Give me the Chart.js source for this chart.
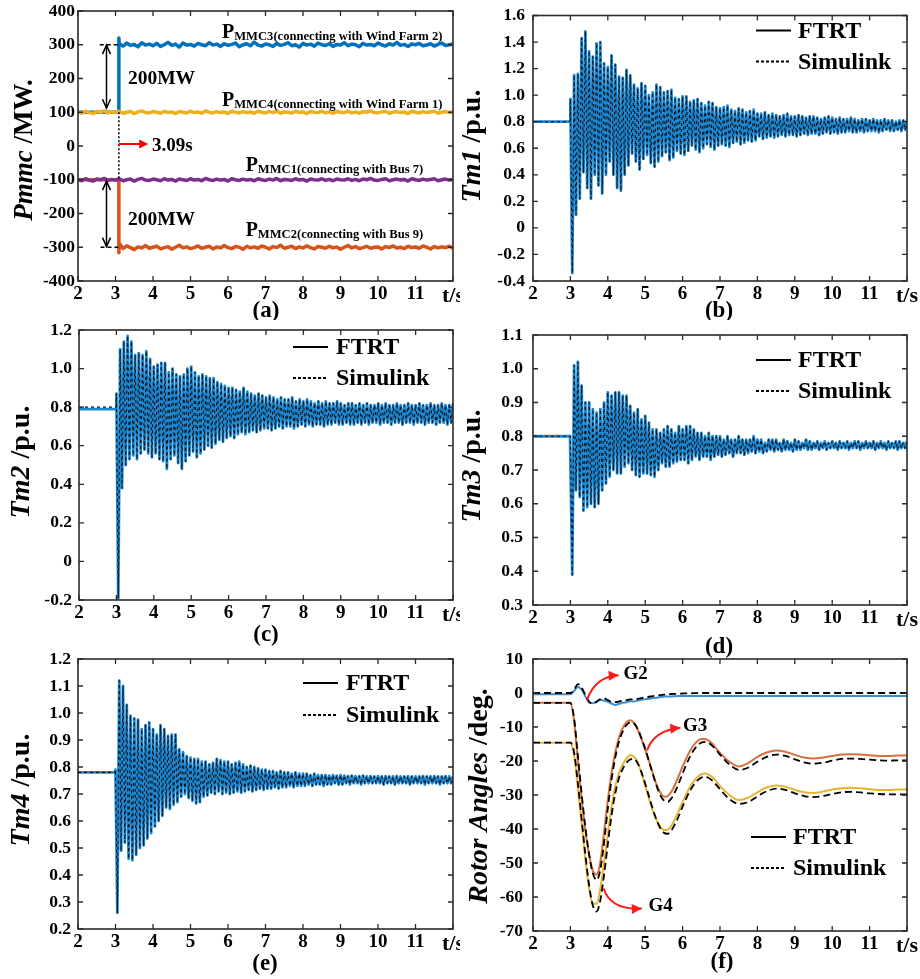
<!DOCTYPE html>
<html>
<head>
<meta charset="utf-8">
<script src="https://cdn.jsdelivr.net/npm/chart.js@4.4.0/dist/chart.umd.min.js"></script>
<style>
  body { margin: 0; background: #fff; }
  #wrap { position: relative; width: 920px; height: 979px; overflow: hidden; background: #fff; }
  canvas { position: absolute; }
</style>
</head>
<body>
<div id="wrap">
  <canvas id="cA" width="460" height="320" style="left:0;top:0"></canvas>
  <canvas id="cB" width="460" height="320" style="left:460px;top:0"></canvas>
  <canvas id="cC" width="460" height="340" style="left:0;top:320px"></canvas>
  <canvas id="cD" width="460" height="340" style="left:460px;top:320px"></canvas>
  <canvas id="cE" width="460" height="329" style="left:0;top:650px"></canvas>
  <canvas id="cF" width="460" height="329" style="left:460px;top:650px"></canvas>
</div>
<script>
const SERIF = '"Liberation Serif", "Times New Roman", serif';

// ---------- (a) MMC powers, MW, sampled every 0.1 s from 2.0 to 12.0 ----------
const mmcTime = [];
for (let i = 0; i <= 100; i++) mmcTime.push(+(2 + i * 0.1).toFixed(1));
const stepTime = 3.09;
const mmc3Jump = 320;
const mmc2Jump = -316;

const mmc3 = [100, 100, 100, 100, 100, 100, 100, 100, 100, 100, 100,
  303, 296, 305, 298, 301, 294, 306, 299, 302, 297,
  304, 295, 300, 307, 298, 302, 293, 305, 299, 301,
  296, 304, 300, 297, 306, 299, 302, 295, 303, 298,
  301, 305, 294, 300, 303, 297, 308, 299, 296, 302,
  300, 295, 304, 298, 301, 306, 297, 300, 293, 304,
  299, 302, 296, 305, 300, 298, 303, 295, 301, 299,
  306, 297, 302, 300, 294, 304, 299, 301, 297, 305,
  300, 296, 303, 299, 307, 298, 301, 295, 302, 300,
  304, 297, 299, 303, 296, 301, 305, 298, 300, 302];

const mmc4 = [101, 97, 103, 99, 96, 102, 100, 104, 98, 101,
  99, 103, 97, 100, 102, 96, 101, 104, 99, 98,
  102, 100, 97, 103, 99, 101, 96, 102, 100, 98,
  103, 99, 101, 97, 104, 100, 98, 102, 99, 101,
  96, 103, 100, 98, 102, 99, 101, 97, 103, 100,
  98, 102, 99, 104, 97, 101, 100, 98, 103, 99,
  101, 96, 102, 100, 99, 103, 98, 101, 97, 102,
  100, 99, 103, 98, 101, 97, 102, 100, 104, 99,
  98, 101, 103, 97, 100, 102, 99, 101, 96, 103,
  100, 98, 102, 99, 101, 103, 97, 100, 102, 99, 101];

const mmc1 = [-99, -103, -97, -101, -104, -98, -100, -96, -102, -99,
  -101, -97, -103, -100, -98, -104, -99, -96, -101, -102,
  -98, -100, -103, -97, -101, -99, -104, -98, -100, -102,
  -97, -101, -99, -103, -96, -100, -102, -98, -101, -99,
  -104, -97, -100, -102, -98, -101, -99, -103, -97, -100,
  -102, -98, -101, -96, -103, -99, -100, -102, -97, -101,
  -99, -104, -98, -100, -101, -97, -102, -99, -103, -98,
  -100, -101, -97, -102, -99, -103, -98, -100, -96, -101,
  -102, -99, -97, -103, -100, -98, -101, -99, -104, -97,
  -100, -102, -98, -101, -99, -97, -103, -100, -98, -101, -99];

const mmc2 = [-100, -100, -100, -100, -100, -100, -100, -100, -100, -100, -100,
  -288, -304, -296, -301, -307, -299, -302, -295, -303, -300,
  -297, -305, -301, -298, -306, -300, -294, -302, -299, -304,
  -301, -296, -303, -300, -297, -305, -299, -302, -295, -301,
  -304, -298, -300, -306, -297, -302, -299, -303, -296, -300,
  -305, -298, -301, -294, -303, -300, -297, -304, -299, -302,
  -296, -301, -305, -298, -300, -303, -297, -302, -299, -306,
  -300, -295, -302, -298, -304, -301, -297, -303, -300, -299,
  -305, -298, -301, -296, -302, -300, -304, -297, -301, -299,
  -303, -296, -300, -305, -298, -302, -299, -301, -297, -303];

// ---------- (b)-(e) mechanical torques, p.u. ----------
// Hi: crest values at 3.1, 3.2 ... 12.0 s ; Lo: trough values at 3.05, 3.15 ... 11.95 s
const tm1Pre = 0.80, tm1Kick = 0.97;
const tm1Hi = [1.15, 1.16, 1.43, 1.48, 1.33, 1.29, 1.39, 1.40, 1.24, 1.21,
  1.30, 1.23, 1.14, 1.13, 1.19, 1.15, 1.08, 1.05, 1.09, 1.07,
  1.00, 1.02, 1.08, 1.06, 1.02, 1.03, 1.04, 0.98, 0.97, 0.99,
  0.99, 0.95, 0.96, 0.97, 0.94, 0.92, 0.95, 0.94, 0.91, 0.90,
  0.91, 0.92, 0.89, 0.88, 0.90, 0.89, 0.87, 0.88, 0.89, 0.86,
  0.86, 0.87, 0.85, 0.86, 0.85, 0.84, 0.85, 0.86, 0.84, 0.84,
  0.85, 0.84, 0.83, 0.84, 0.84, 0.83, 0.82, 0.83, 0.84, 0.83,
  0.82, 0.83, 0.82, 0.82, 0.83, 0.82, 0.81, 0.82, 0.82, 0.81,
  0.82, 0.81, 0.81, 0.82, 0.81, 0.81, 0.80, 0.81, 0.81, 0.81];
const tm1Lo = [-0.34, 0.10, 0.22, 0.42, 0.30, 0.22, 0.40, 0.32, 0.26, 0.40,
  0.50, 0.40, 0.30, 0.28, 0.40, 0.47, 0.56, 0.50, 0.44, 0.52,
  0.55, 0.49, 0.46, 0.50, 0.54, 0.57, 0.51, 0.53, 0.58, 0.56,
  0.55, 0.58, 0.62, 0.59, 0.57, 0.60, 0.63, 0.61, 0.59, 0.62,
  0.63, 0.62, 0.61, 0.64, 0.65, 0.63, 0.64, 0.66, 0.65, 0.66,
  0.69, 0.67, 0.68, 0.69, 0.68, 0.69, 0.70, 0.69, 0.70, 0.70,
  0.69, 0.70, 0.71, 0.70, 0.71, 0.71, 0.70, 0.71, 0.72, 0.71,
  0.72, 0.71, 0.72, 0.72, 0.73, 0.72, 0.72, 0.73, 0.72, 0.73,
  0.73, 0.73, 0.72, 0.73, 0.74, 0.73, 0.73, 0.74, 0.73, 0.74];

const tm2PreFtrt = 0.79, tm2PreSim = 0.80, tm2Kick = 0.87;
const tm2Hi = [1.10, 1.14, 1.17, 1.14, 1.07, 1.08, 1.07, 1.09, 1.05, 1.01,
  1.02, 1.03, 1.03, 0.98, 1.00, 0.97, 0.96, 0.97, 1.00, 1.01,
  0.98, 0.96, 0.97, 0.96, 0.95, 0.95, 0.93, 0.92, 0.91, 0.90,
  0.90, 0.89, 0.88, 0.90, 0.88, 0.87, 0.86, 0.87, 0.86, 0.85,
  0.86, 0.85, 0.84, 0.85, 0.84, 0.84, 0.85, 0.83, 0.84, 0.83,
  0.84, 0.83, 0.82, 0.83, 0.82, 0.83, 0.82, 0.82, 0.83, 0.82,
  0.81, 0.82, 0.82, 0.81, 0.82, 0.81, 0.82, 0.81, 0.81, 0.82,
  0.81, 0.82, 0.81, 0.81, 0.82, 0.81, 0.81, 0.82, 0.81, 0.81,
  0.82, 0.81, 0.81, 0.82, 0.81, 0.81, 0.82, 0.81, 0.81, 0.82];
const tm2Lo = [-0.19, 0.38, 0.50, 0.53, 0.55, 0.53, 0.56, 0.58, 0.56, 0.54,
  0.56, 0.53, 0.52, 0.48, 0.53, 0.55, 0.51, 0.48, 0.52, 0.55,
  0.57, 0.54, 0.56, 0.58, 0.60, 0.59, 0.61, 0.63, 0.62, 0.64,
  0.65, 0.64, 0.66, 0.67, 0.66, 0.67, 0.68, 0.67, 0.68, 0.69,
  0.69, 0.68, 0.69, 0.70, 0.69, 0.70, 0.70, 0.69, 0.70, 0.71,
  0.70, 0.71, 0.70, 0.71, 0.71, 0.70, 0.71, 0.71, 0.72, 0.71,
  0.71, 0.72, 0.71, 0.71, 0.72, 0.71, 0.72, 0.71, 0.72, 0.72,
  0.71, 0.72, 0.72, 0.71, 0.72, 0.72, 0.71, 0.72, 0.72, 0.71,
  0.72, 0.72, 0.71, 0.72, 0.72, 0.71, 0.72, 0.72, 0.71, 0.72];

const tm3Pre = 0.80, tm3Kick = 0.80;
const tm3Hi = [1.01, 1.02, 0.95, 0.90, 0.90, 0.88, 0.87, 0.88, 0.90, 0.93,
  0.92, 0.93, 0.93, 0.92, 0.92, 0.89, 0.87, 0.88, 0.85, 0.86,
  0.84, 0.82, 0.82, 0.81, 0.82, 0.83, 0.82, 0.81, 0.83, 0.82,
  0.83, 0.83, 0.82, 0.81, 0.81, 0.80, 0.81, 0.80, 0.80, 0.80,
  0.79, 0.80, 0.79, 0.79, 0.80, 0.79, 0.79, 0.79, 0.80, 0.79,
  0.79, 0.78, 0.79, 0.79, 0.79, 0.78, 0.79, 0.785, 0.78, 0.79,
  0.785, 0.78, 0.79, 0.785, 0.78, 0.785, 0.78, 0.785, 0.78, 0.785,
  0.78, 0.785, 0.78, 0.785, 0.78, 0.785, 0.785, 0.78, 0.785, 0.78,
  0.785, 0.78, 0.785, 0.78, 0.785, 0.78, 0.785, 0.785, 0.78, 0.785];
const tm3Lo = [0.39, 0.64, 0.62, 0.58, 0.59, 0.60, 0.59, 0.60, 0.64, 0.66,
  0.68, 0.70, 0.69, 0.69, 0.71, 0.72, 0.70, 0.685, 0.68, 0.69,
  0.69, 0.685, 0.68, 0.70, 0.72, 0.71, 0.71, 0.72, 0.725, 0.73,
  0.73, 0.72, 0.73, 0.74, 0.73, 0.74, 0.74, 0.73, 0.74, 0.745,
  0.74, 0.745, 0.75, 0.74, 0.75, 0.75, 0.745, 0.75, 0.755, 0.75,
  0.755, 0.75, 0.755, 0.76, 0.755, 0.76, 0.755, 0.76, 0.76, 0.755,
  0.76, 0.76, 0.765, 0.76, 0.76, 0.765, 0.76, 0.765, 0.76, 0.765,
  0.765, 0.76, 0.765, 0.765, 0.76, 0.765, 0.765, 0.76, 0.765, 0.765,
  0.765, 0.76, 0.765, 0.765, 0.76, 0.765, 0.765, 0.76, 0.765, 0.765];

const tm4Pre = 0.78, tm4Kick = 0.79;
const tm4Hi = [1.12, 1.10, 1.03, 0.99, 0.98, 0.975, 0.94, 0.955, 0.965, 0.94,
  0.92, 0.955, 0.94, 0.915, 0.92, 0.92, 0.865, 0.855, 0.84, 0.835,
  0.83, 0.83, 0.82, 0.82, 0.81, 0.815, 0.83, 0.825, 0.82, 0.82,
  0.81, 0.815, 0.82, 0.81, 0.80, 0.805, 0.80, 0.795, 0.79, 0.79,
  0.785, 0.785, 0.78, 0.785, 0.78, 0.78, 0.775, 0.78, 0.775, 0.775,
  0.775, 0.77, 0.775, 0.77, 0.77, 0.77, 0.768, 0.77, 0.768, 0.77,
  0.768, 0.766, 0.768, 0.766, 0.766, 0.768, 0.765, 0.766, 0.765, 0.766,
  0.765, 0.766, 0.765, 0.765, 0.766, 0.765, 0.765, 0.766, 0.765, 0.765,
  0.765, 0.766, 0.765, 0.765, 0.766, 0.765, 0.765, 0.766, 0.765, 0.765];
const tm4Lo = [0.26, 0.49, 0.52, 0.46, 0.455, 0.475, 0.50, 0.51, 0.535, 0.555,
  0.58, 0.60, 0.62, 0.65, 0.645, 0.66, 0.67, 0.69, 0.70, 0.685,
  0.675, 0.665, 0.67, 0.69, 0.695, 0.705, 0.70, 0.71, 0.70, 0.705,
  0.70, 0.705, 0.71, 0.705, 0.71, 0.715, 0.71, 0.715, 0.72, 0.715,
  0.72, 0.72, 0.725, 0.72, 0.725, 0.725, 0.73, 0.725, 0.73, 0.73,
  0.73, 0.735, 0.73, 0.735, 0.735, 0.73, 0.735, 0.735, 0.74, 0.735,
  0.735, 0.74, 0.735, 0.74, 0.74, 0.735, 0.74, 0.74, 0.74, 0.74,
  0.74, 0.735, 0.74, 0.74, 0.735, 0.74, 0.74, 0.74, 0.735, 0.74,
  0.74, 0.74, 0.735, 0.74, 0.74, 0.74, 0.735, 0.74, 0.74, 0.74];

// ---------- (f) rotor angles, deg ----------
const fTime = [2.0, 2.5, 3.0,
  3.1, 3.2, 3.3, 3.4, 3.5, 3.6, 3.7, 3.8, 3.9, 4.0,
  4.1, 4.2, 4.3, 4.4, 4.5, 4.6, 4.7, 4.8, 4.9, 5.0,
  5.1, 5.2, 5.3, 5.4, 5.5, 5.6, 5.7, 5.8, 5.9, 6.0,
  6.1, 6.2, 6.3, 6.4, 6.5, 6.6, 6.7, 6.8, 6.9, 7.0,
  7.25, 7.5, 7.75, 8.0, 8.25, 8.5, 8.75, 9.0, 9.25, 9.5,
  9.75, 10.0, 10.25, 10.5, 10.75, 11.0, 11.25, 11.5, 11.75, 12.0];
const g2Ftrt = [-0.4, -0.4, -0.4,
  0.6, 1.8, 1.0, -1.0, -2.8, -3.0, -2.5, -2.0, -2.3, -2.6,
  -3.1, -3.5, -3.2, -2.9, -2.7, -2.4, -2.5, -2.2, -2.0, -1.8,
  -1.7, -1.5, -1.4, -1.2, -1.1, -1.0, -1.0, -0.95, -0.9, -0.9,
  -0.9, -0.9, -0.85, -0.9, -0.85, -0.9, -0.85, -0.85, -0.9, -0.85,
  -0.85, -0.9, -0.85, -0.85, -0.9, -0.85, -0.85, -0.9, -0.85, -0.85,
  -0.9, -0.85, -0.85, -0.9, -0.85, -0.9, -0.85, -0.85, -0.9, -0.85];
const g2Sim = [0, 0, 0,
  1.0, 2.6, 1.6, -0.6, -2.5, -3.2, -2.6, -1.8, -1.6, -2.1,
  -2.6, -2.7, -2.5, -2.3, -2.1, -1.9, -1.9, -1.7, -1.5, -1.3,
  -1.1, -0.9, -0.8, -0.6, -0.5, -0.4, -0.3, -0.25, -0.2, -0.15,
  -0.1, -0.1, -0.05, -0.05, 0, 0, 0, 0, 0, 0,
  0, 0, 0, 0, 0, 0, 0, 0, 0, 0,
  0, 0, 0, 0, 0, 0, 0, 0, 0, 0];
const g3Ftrt = [-2.9, -2.9, -2.9,
  -8.5, -20, -31, -40.5, -47.5, -52.3, -53.4, -49.7, -41, -31.5,
  -23.5, -17.5, -13, -10.3, -8.6, -8.0, -8.8, -10.8, -13.5, -16.6,
  -20, -23.5, -26.8, -29.2, -30.5, -30.3, -29.0, -26.9, -24.3, -21.6,
  -19.2, -17.0, -15.3, -14.1, -13.5, -13.5, -14.0, -15.0, -16.3, -17.6,
  -20.2, -21.6, -20.6, -18.8, -17.5, -16.9, -17.3, -18.2, -19.0, -19.3,
  -19.0, -18.5, -18.1, -18.0, -18.1, -18.3, -18.5, -18.5, -18.4, -18.3];
const g3Sim = [-2.9, -2.9, -2.9,
  -7.5, -18.5, -29.5, -39.5, -47.5, -53, -55, -52, -44, -34,
  -25.5, -19, -14.3, -11.3, -9.4, -8.6, -8.9, -10.6, -13.3, -16.5,
  -20.0, -23.7, -27.2, -30.0, -31.6, -32.0, -31.0, -29.0, -26.5, -23.7,
  -21.0, -18.7, -16.8, -15.4, -14.6, -14.4, -14.7, -15.6, -16.8, -18.1,
  -21.0, -22.6, -22.0, -20.2, -18.8, -18.1, -18.5, -19.5, -20.4, -20.8,
  -20.5, -19.9, -19.4, -19.3, -19.4, -19.6, -19.8, -19.9, -19.8, -19.8];
const g4Ftrt = [-14.6, -14.6, -14.6,
  -18.5, -28, -38.5, -49, -57.5, -62, -62, -57.5, -50, -41.5,
  -33.5, -27.5, -23.5, -21, -19.2, -18.3, -18.7, -20.5, -23.5, -27.2,
  -31, -34.5, -37.3, -39.3, -40.3, -40.2, -39, -37, -34.6, -32,
  -29.7, -27.6, -25.9, -24.7, -23.9, -23.7, -24.0, -24.8, -26.0, -27.3,
  -30.0, -31.5, -30.8, -29.2, -27.8, -27.2, -27.6, -28.5, -29.2, -29.4,
  -29.0, -28.4, -28.0, -27.9, -28.0, -28.3, -28.5, -28.5, -28.4, -28.3];
const g4Sim = [-14.6, -14.6, -14.6,
  -17.5, -26.5, -37, -47.5, -56.5, -62.5, -64.3, -61, -53.5, -44.5,
  -36, -29.5, -25, -22.3, -20.5, -19.5, -19.4, -20.7, -23.3, -26.7,
  -30.4, -34.0, -37.2, -39.7, -41.1, -41.4, -40.4, -38.5, -36.1, -33.4,
  -30.9, -28.7, -27.0, -25.7, -24.9, -24.7, -25.0, -25.8, -27.0, -28.3,
  -31.2, -32.6, -32.1, -30.4, -28.9, -28.1, -28.5, -29.5, -30.3, -30.6,
  -30.3, -29.7, -29.2, -29.1, -29.2, -29.5, -29.7, -29.8, -29.8, -29.8];

const legendNames = ['FTRT', 'Simulink'];

// ---------- building the point lists ----------
function plainSeries(vals) {
  return mmcTime.map((t, i) => ({ x: t, y: vals[i] }));
}
function stepSeries(vals, jump) {
  const pts = [];
  mmcTime.forEach((t, i) => {
    if (t > stepTime && pts.length && pts[pts.length - 1].x < stepTime) {
      pts.push({ x: stepTime, y: vals[i - 1] }, { x: stepTime, y: jump });
    }
    pts.push({ x: t, y: vals[i] });
  });
  return pts;
}
function burst(pre, kick, lo, hi) {
  const pts = [{ x: 2, y: pre }, { x: 2.99, y: pre }, { x: 3.0, y: kick }];
  lo.forEach((v, i) => {
    pts.push({ x: +(3.05 + i * 0.1).toFixed(2), y: v });
    pts.push({ x: +(3.1 + i * 0.1).toFixed(2), y: hi[i] });
  });
  return pts;
}
function angSeries(vals) {
  return fTime.map((t, i) => ({ x: t, y: vals[i] }));
}

// ---------- drawing helpers ----------
function seg(ctx, x1, y1, x2, y2) {
  ctx.beginPath(); ctx.moveTo(x1, y1); ctx.lineTo(x2, y2); ctx.stroke();
}
function headFill(ctx, x, y, ang, len, half) {
  ctx.beginPath();
  ctx.moveTo(x, y);
  ctx.lineTo(x - len * Math.cos(ang) + half * Math.sin(ang), y - len * Math.sin(ang) - half * Math.cos(ang));
  ctx.lineTo(x - len * Math.cos(ang) - half * Math.sin(ang), y - len * Math.sin(ang) + half * Math.cos(ang));
  ctx.closePath();
  ctx.fill();
}
function headOpen(ctx, x, y, ang, len, half) {
  ctx.beginPath();
  ctx.moveTo(x - len * Math.cos(ang) + half * Math.sin(ang), y - len * Math.sin(ang) - half * Math.cos(ang));
  ctx.lineTo(x, y);
  ctx.lineTo(x - len * Math.cos(ang) - half * Math.sin(ang), y - len * Math.sin(ang) + half * Math.cos(ang));
  ctx.stroke();
}
function doubleArrow(ctx, x, y1, y2) {
  seg(ctx, x, y1, x, y2);
  headOpen(ctx, x, y1, -Math.PI / 2, 9, 4);
  headOpen(ctx, x, y2, Math.PI / 2, 9, 4);
}
function curvedArrow(ctx, p0, c, p1) {
  ctx.beginPath(); ctx.moveTo(p0[0], p0[1]); ctx.quadraticCurveTo(c[0], c[1], p1[0], p1[1]); ctx.stroke();
  headFill(ctx, p1[0], p1[1], Math.atan2(p1[1] - c[1], p1[0] - c[0]), 10, 5);
}
function subLabel(ctx, x, y, main, sub) {
  ctx.textAlign = 'left'; ctx.textBaseline = 'alphabetic';
  ctx.font = 'bold 20px ' + SERIF;
  ctx.fillText(main, x, y);
  const w = ctx.measureText(main).width;
  ctx.font = 'bold 12.6px ' + SERIF;
  ctx.fillText(sub, x + w, y + 2);
}

function mmcNotes(chart, ctx, x, y) {
  const px = v => x.getPixelForValue(v), py = v => y.getPixelForValue(v);
  ctx.strokeStyle = '#000'; ctx.fillStyle = '#000'; ctx.lineWidth = 1.5;
  ctx.setLineDash([4, 3]);
  seg(ctx, px(2.58), py(300), px(stepTime), py(300));
  seg(ctx, px(2.6), py(-300), px(stepTime), py(-300));
  ctx.setLineDash([2, 2]);
  seg(ctx, px(stepTime), py(100), px(stepTime), py(-100));
  ctx.setLineDash([]);
  doubleArrow(ctx, px(2.76), py(299), py(112));
  doubleArrow(ctx, px(2.76), py(-104), py(-298));
  ctx.font = 'bold 19.5px ' + SERIF; ctx.textAlign = 'left'; ctx.textBaseline = 'middle';
  ctx.fillText('200MW', px(3.33), py(198));
  ctx.fillText('200MW', px(3.33), py(-219));
  ctx.strokeStyle = '#ff0000'; ctx.fillStyle = '#ff0000'; ctx.lineWidth = 2;
  seg(ctx, px(stepTime), py(6), px(3.8), py(6));
  headFill(ctx, px(3.87), py(6), 0, 9, 4.5);
  ctx.fillStyle = '#000';
  ctx.font = 'bold 19px ' + SERIF;
  ctx.fillText('3.09s', px(3.97), py(0));
  subLabel(ctx, px(5.84), py(320), 'P', 'MMC3(connecting with Wind Farm 2)');
  subLabel(ctx, px(5.84), py(119), 'P', 'MMC4(connecting with Wind Farm 1)');
  subLabel(ctx, px(6.47), py(-73), 'P', 'MMC1(connecting with Bus 7)');
  subLabel(ctx, px(6.47), py(-266), 'P', 'MMC2(connecting with Bus 9)');
}

function angleNotes(chart, ctx, x, y) {
  const p = (t, v) => [x.getPixelForValue(t), y.getPixelForValue(v)];
  ctx.strokeStyle = '#ff1a1a'; ctx.fillStyle = '#ff1a1a'; ctx.lineWidth = 2;
  curvedArrow(ctx, p(3.44, -2.1), p(3.67, 4.9), p(4.29, 5.2));
  curvedArrow(ctx, p(5.05, -16.9), p(5.23, -11), p(5.94, -10.2));
  curvedArrow(ctx, p(3.89, -57.5), p(4.07, -63.9), p(4.91, -63.4));
  ctx.fillStyle = '#000';
  ctx.font = 'bold 19px ' + SERIF; ctx.textAlign = 'left'; ctx.textBaseline = 'middle';
  let q = p(4.42, 5.7); ctx.fillText('G2', q[0], q[1]);
  q = p(6.01, -9.8); ctx.fillText('G3', q[0], q[1]);
  q = p(5.09, -62.7); ctx.fillText('G4', q[0], q[1]);
}

function drawLegend(ctx, a, L) {
  ctx.fillStyle = '#000'; ctx.strokeStyle = '#000'; ctx.lineWidth = 2;
  ctx.font = 'bold 24px ' + SERIF; ctx.textAlign = 'left'; ctx.textBaseline = 'middle';
  legendNames.forEach((name, i) => {
    const yy = a.top + L.rows[i];
    ctx.setLineDash(i === 0 ? [] : [3, 2]);
    seg(ctx, a.right - L.x1, yy, a.right - L.x2, yy);
    ctx.setLineDash([]);
    ctx.fillText(name, a.right - L.tx, yy + 1);
  });
}

function drawTitle(ctx, parts, cx, cy, size) {
  ctx.save();
  ctx.translate(cx, cy);
  ctx.rotate(-Math.PI / 2);
  ctx.fillStyle = '#000'; ctx.textAlign = 'left'; ctx.textBaseline = 'middle';
  const fonts = parts.map(p => (p[1] ? 'italic bold ' : 'bold ') + size + 'px ' + SERIF);
  let total = 0;
  parts.forEach((p, i) => { ctx.font = fonts[i]; total += ctx.measureText(p[0]).width; });
  let x0 = -total / 2;
  parts.forEach((p, i) => { ctx.font = fonts[i]; ctx.fillText(p[0], x0, 0); x0 += ctx.measureText(p[0]).width; });
  ctx.restore();
}

// per canvas decoration settings
const deco = {
  cA: { title: [['Pmmc', true], [' /MW.', false]], size: 27, tx: 25.5, ty: 150, tag: '(a)', gx: 266, gy: 311, extra: mmcNotes },
  cB: { title: [['Tm1', true], [' /p.u.', false]], size: 28, tx: 13, ty: 146, tag: '(b)', gx: 259, gy: 311,
        legend: { x1: 151, x2: 116, tx: 109, rows: [15, 46] } },
  cC: { title: [['Tm2', true], [' /p.u.', false]], size: 28, tx: 22, ty: 142, tag: '(c)', gx: 266, gy: 315,
        legend: { x1: 160, x2: 125, tx: 117, rows: [17, 48] } },
  cD: { title: [['Tm3', true], [' /p.u.', false]], size: 28, tx: 13, ty: 146, tag: '(d)', gx: 259, gy: 327,
        legend: { x1: 151, x2: 116, tx: 109, rows: [25, 56] } },
  cE: { title: [['Tm4', true], [' /p.u.', false]], size: 28, tx: 22, ty: 140, tag: '(e)', gx: 265, gy: 314,
        legend: { x1: 150, x2: 115, tx: 107, rows: [24, 56] } },
  cF: { title: [['Rotor Angles', true], [' /deg.', false]], size: 28, tx: 19.5, ty: 146, tag: '(f)', gx: 262, gy: 312,
        legend: { x1: 156, x2: 121, tx: 114, rows: [178, 209] }, extra: angleNotes }
};

Chart.register({
  id: 'deco',
  afterDatasetsDraw(chart) {
    const d = deco[chart.canvas.id];
    const { ctx, chartArea: a } = chart;
    const x = chart.scales.x, y = chart.scales.y;
    ctx.save();
    ctx.strokeStyle = '#2b2b2b'; ctx.lineWidth = 1.3;
    ctx.beginPath();
    x.ticks.forEach(t => {
      const px = x.getPixelForValue(t.value);
      ctx.moveTo(px, a.bottom); ctx.lineTo(px, a.bottom - 5);
      ctx.moveTo(px, a.top); ctx.lineTo(px, a.top + 5);
    });
    y.ticks.forEach(t => {
      const py = y.getPixelForValue(t.value);
      ctx.moveTo(a.left, py); ctx.lineTo(a.left + 5, py);
      ctx.moveTo(a.right, py); ctx.lineTo(a.right - 5, py);
    });
    ctx.stroke();
    ctx.lineWidth = 1.6;
    ctx.strokeRect(a.left, a.top, a.right - a.left, a.bottom - a.top);
    if (d.extra) d.extra(chart, ctx, x, y);
    if (d.legend) drawLegend(ctx, a, d.legend);
    drawTitle(ctx, d.title, d.tx, d.ty, d.size);
    ctx.fillStyle = '#000'; ctx.font = 'bold 23px ' + SERIF;
    ctx.textAlign = 'center'; ctx.textBaseline = 'middle';
    ctx.fillText(d.tag, d.gx, d.gy);
    ctx.restore();
  }
});

const oneDec = v => (Math.abs(v) < 1e-9 ? '0' : v.toFixed(1));
const whole = v => String(Math.round(v));

function makePanel(id, box, yr, datasets) {
  const cv = document.getElementById(id);
  const W = cv.width, H = cv.height;
  return new Chart(cv, {
    type: 'line',
    data: { datasets },
    options: {
      responsive: false,
      animation: false,
      devicePixelRatio: 1,
      layout: { padding: { left: 0, top: box.top, right: W - box.right, bottom: 0 } },
      plugins: { legend: { display: false }, tooltip: { enabled: false } },
      elements: { point: { radius: 0 }, line: { borderJoinStyle: 'round' } },
      scales: {
        x: {
          type: 'linear', min: 2, max: 12,
          grid: { display: false, drawTicks: false }, border: { display: false },
          ticks: {
            stepSize: 1, autoSkip: false, maxRotation: 0, padding: 2, color: '#000',
            font: c => ({ family: SERIF, weight: 'bold', size: c.tick && c.tick.value === 12 ? 22 : 19 }),
            callback: v => (v === 12 ? 't/s' : String(v))
          },
          afterFit: s => { s.height = H - box.bottom; s.paddingLeft = 0; s.paddingRight = 0; }
        },
        y: {
          type: 'linear', min: yr.min, max: yr.max,
          grid: { display: false, drawTicks: false }, border: { display: false },
          ticks: {
            stepSize: yr.step, autoSkip: false, padding: yr.pad, color: '#000',
            font: { family: SERIF, weight: 'bold', size: 17.5 },
            callback: yr.fmt
          },
          afterFit: s => { s.width = box.left; s.paddingTop = 0; s.paddingBottom = 0; }
        }
      }
    }
  });
}

const TM_BLUE = '#1a88d4';
function tmSets(ftrt, sim) {
  return [
    { label: 'Simulink', data: sim, borderColor: '#111', borderWidth: 1.1, borderDash: [3, 3], order: 0 },
    { label: 'FTRT', data: ftrt, borderColor: TM_BLUE, borderWidth: 2.8, order: 1 }
  ];
}

makePanel('cA', { left: 78, top: 11, right: 453, bottom: 281 },
  { min: -400, max: 400, step: 100, pad: 3, fmt: whole }, [
    { label: 'PMMC4', data: plainSeries(mmc4), borderColor: '#EDB120', borderWidth: 3.5, order: 1 },
    { label: 'PMMC1', data: plainSeries(mmc1), borderColor: '#7E2F8E', borderWidth: 3.5, order: 1 },
    { label: 'PMMC3', data: stepSeries(mmc3, mmc3Jump), borderColor: '#0072BD', borderWidth: 3.5, order: 2 },
    { label: 'PMMC2', data: stepSeries(mmc2, mmc2Jump), borderColor: '#D95319', borderWidth: 3.5, order: 2 }
  ]);

makePanel('cB', { left: 73, top: 15.5, right: 447, bottom: 281 },
  { min: -0.4, max: 1.6, step: 0.2, pad: 8, fmt: oneDec },
  tmSets(burst(tm1Pre, tm1Kick, tm1Lo, tm1Hi), burst(tm1Pre, tm1Kick, tm1Lo, tm1Hi)));

makePanel('cC', { left: 79, top: 10, right: 453, bottom: 280 },
  { min: -0.2, max: 1.2, step: 0.2, pad: 7, fmt: oneDec },
  tmSets(burst(tm2PreFtrt, tm2Kick, tm2Lo, tm2Hi), burst(tm2PreSim, tm2Kick, tm2Lo, tm2Hi)));

makePanel('cD', { left: 73, top: 15, right: 447, bottom: 285 },
  { min: 0.3, max: 1.1, step: 0.1, pad: 10, fmt: oneDec },
  tmSets(burst(tm3Pre, tm3Kick, tm3Lo, tm3Hi), burst(tm3Pre, tm3Kick, tm3Lo, tm3Hi)));

makePanel('cE', { left: 78, top: 9, right: 453, bottom: 279 },
  { min: 0.2, max: 1.2, step: 0.1, pad: 7, fmt: oneDec },
  tmSets(burst(tm4Pre, tm4Kick, tm4Lo, tm4Hi), burst(tm4Pre, tm4Kick, tm4Lo, tm4Hi)));

const angDash = { borderColor: '#000', borderWidth: 1.8, borderDash: [7, 4], order: 0, cubicInterpolationMode: 'monotone' };
makePanel('cF', { left: 73, top: 9, right: 447, bottom: 281 },
  { min: -70, max: 10, step: 10, pad: 10, fmt: whole }, [
    Object.assign({ label: 'G2 Simulink', data: angSeries(g2Sim) }, angDash),
    Object.assign({ label: 'G3 Simulink', data: angSeries(g3Sim) }, angDash),
    Object.assign({ label: 'G4 Simulink', data: angSeries(g4Sim) }, angDash),
    { label: 'G2 FTRT', data: angSeries(g2Ftrt), borderColor: '#3a8fd3', borderWidth: 2, order: 1, cubicInterpolationMode: 'monotone' },
    { label: 'G3 FTRT', data: angSeries(g3Ftrt), borderColor: '#d8703c', borderWidth: 2, order: 1, cubicInterpolationMode: 'monotone' },
    { label: 'G4 FTRT', data: angSeries(g4Ftrt), borderColor: '#e6b52e', borderWidth: 2, order: 1, cubicInterpolationMode: 'monotone' }
  ]);
</script>
</body>
</html>
